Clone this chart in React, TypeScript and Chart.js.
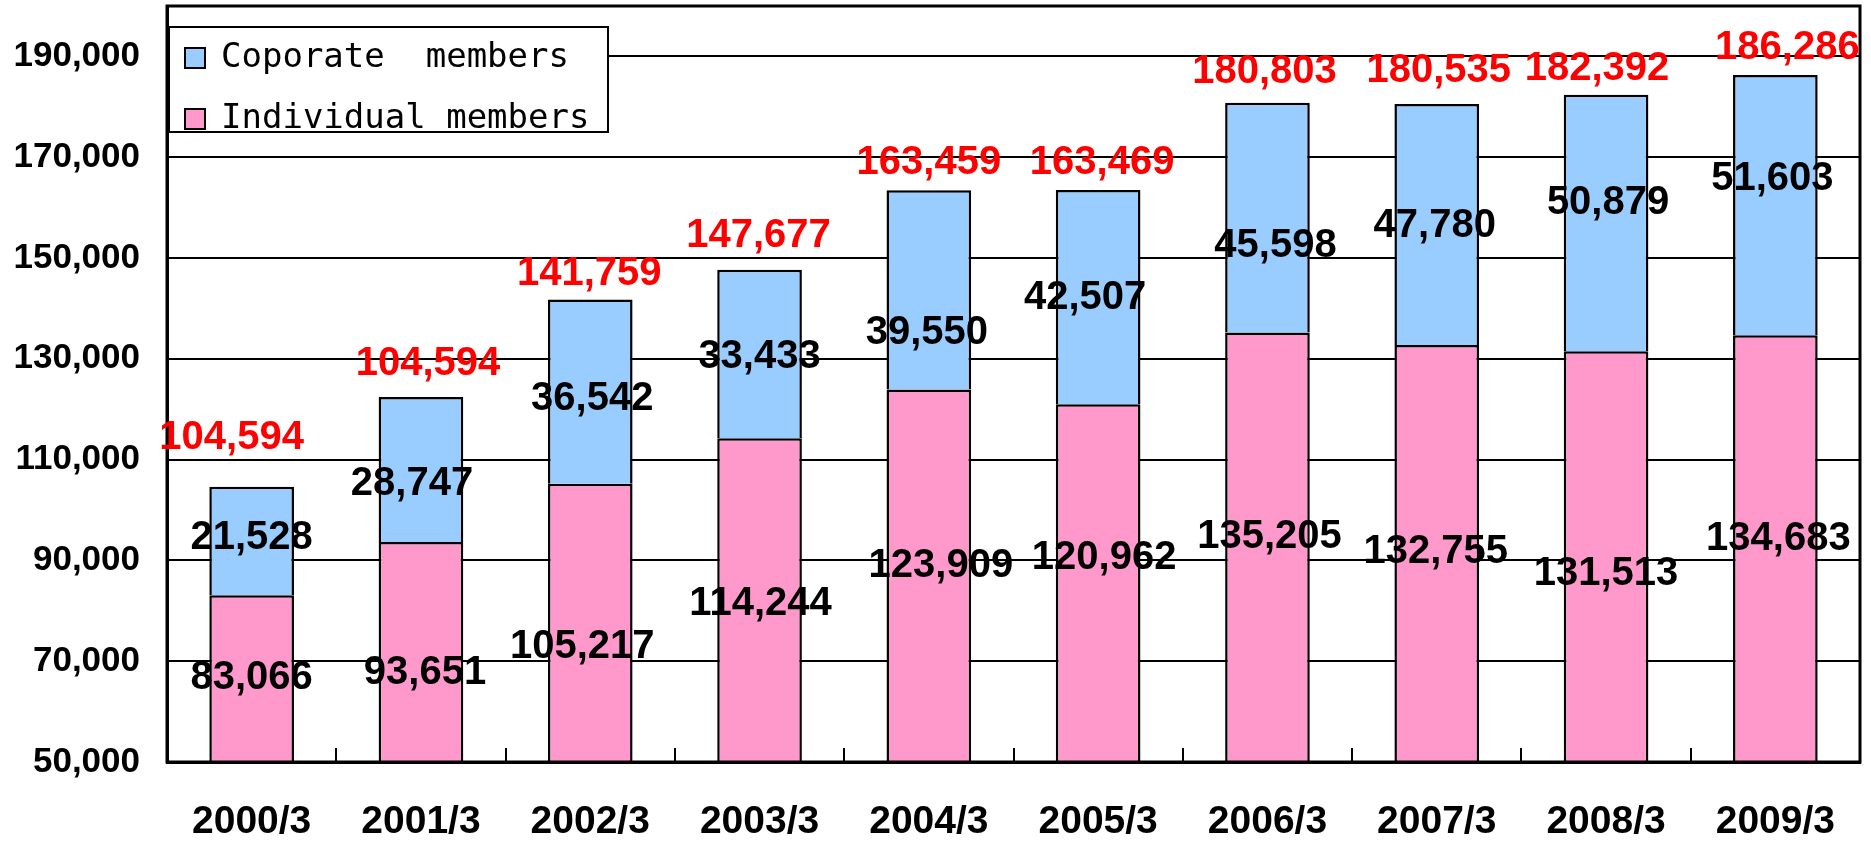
import React, { useEffect, useRef } from "react";
import { Chart, registerables } from "chart.js";

Chart.register(...registerables);

// ---- data ----
const categories = ["2000/3", "2001/3", "2002/3", "2003/3", "2004/3", "2005/3", "2006/3", "2007/3", "2008/3", "2009/3"];
const individualMembers = [83066, 93651, 105217, 114244, 123909, 120962, 135205, 132755, 131513, 134683];
const corporateMembers = [21528, 28747, 36542, 33433, 39550, 42507, 45598, 47780, 50879, 51603];
// total labels as printed in the original (second one repeats the first)
const totalLabels = [104594, 104594, 141759, 147677, 163459, 163469, 180803, 180535, 182392, 186286];
const yTickValues = [50000, 70000, 90000, 110000, 130000, 150000, 170000, 190000];
const Y_MIN = 50000;
const Y_MAX = 200000;

// ---- label nudges (px, [dx, dy]) as placed by hand in the original ----
const individualNudge = [[0, -1], [4, 21], [-8, 24], [1, 4], [12, -10], [6, -25], [2, -10], [-1, -1], [0, 17], [3, -10]];
const corporateNudge = [[0, -3], [-9, 14], [2, 7], [0, 3], [-2, 43], [-13, 1], [8, 28], [-2, 1], [2, -20], [-3, -26]];
const totalNudge = [[-20, -21], [7, -5], [-1, 2], [-1, -6], [0, 1], [4, 1], [-3, -3], [2, -5], [-9, 2], [12, 1]];

const SANS = '"Liberation Sans", Arial, sans-serif';
const MONO = '"DejaVu Sans Mono", "Liberation Mono", monospace';
const PINK = "#FF99CC";
const BLUE = "#99CCFF";

const fmt = (v: number) => Number(v).toLocaleString("en-US");

const overlayPlugin = {
  id: "overlay",
  afterDraw(chart: any) {
    const { ctx, chartArea } = chart;
    const xs = chart.scales.x;
    ctx.save();

    // small x-axis tick marks at category boundaries (pointing up)
    ctx.strokeStyle = "#000";
    ctx.lineWidth = 2;
    for (let i = 0; i <= categories.length; i++) {
      const px = Math.round(xs.getPixelForValue(i - 0.5));
      ctx.beginPath();
      ctx.moveTo(px, chartArea.bottom);
      ctx.lineTo(px, chartArea.bottom - 14);
      ctx.stroke();
    }

    // plot-area border
    ctx.lineWidth = 3;
    ctx.strokeRect(chartArea.left, chartArea.top, chartArea.right - chartArea.left, chartArea.bottom - chartArea.top);

    // legend box
    const lx = chartArea.left + 2;
    const ly = chartArea.top + 21;
    const lw = 439;
    const lh = 105;
    ctx.fillStyle = "#fff";
    ctx.fillRect(lx, ly, lw, lh);
    ctx.strokeStyle = "#000";
    ctx.lineWidth = 2;
    ctx.strokeRect(lx, ly, lw, lh);
    const items = [chart.data.datasets[1], chart.data.datasets[0]];
    const rows = [40, 101];
    ctx.font = `34px ${MONO}`;
    ctx.textAlign = "left";
    ctx.textBaseline = "alphabetic";
    items.forEach((ds: any, k: number) => {
      const base = ly + rows[k];
      ctx.fillStyle = ds.backgroundColor;
      ctx.fillRect(lx + 16, base - 19, 20, 20);
      ctx.strokeStyle = "#000";
      ctx.lineWidth = 2;
      ctx.strokeRect(lx + 16, base - 19, 20, 20);
      ctx.fillStyle = "#000";
      ctx.fillText(ds.label, lx + 52, base);
    });

    // data labels
    const m0 = chart.getDatasetMeta(0);
    const m1 = chart.getDatasetMeta(1);
    ctx.font = `bold 40px ${SANS}`;
    ctx.textAlign = "center";
    ctx.textBaseline = "middle";
    for (let i = 0; i < categories.length; i++) {
      const e0 = m0.data[i].getProps(["x", "y", "base"], true);
      const e1 = m1.data[i].getProps(["x", "y", "base"], true);
      const bottom = Math.min(e0.base, chartArea.bottom);
      ctx.fillStyle = "#000";
      ctx.fillText(fmt(individualMembers[i]), e0.x + individualNudge[i][0], (e0.y + bottom) / 2 + individualNudge[i][1]);
      ctx.fillText(fmt(corporateMembers[i]), e1.x + corporateNudge[i][0], (e1.y + e1.base) / 2 + corporateNudge[i][1]);
      ctx.fillStyle = "#FF0000";
      ctx.fillText(fmt(totalLabels[i]), e1.x + totalNudge[i][0], e1.y - 28 + totalNudge[i][1]);
    }
    ctx.restore();
  },
};

export default function App() {
  const ref = useRef<HTMLCanvasElement | null>(null);

  useEffect(() => {
    document.body.style.margin = "0";
    const canvas = ref.current;
    if (!canvas) return;
    const chart = new Chart(canvas, {
      type: "bar",
      data: {
        labels: categories,
        datasets: [
          {
            label: "Individual members",
            data: individualMembers,
            backgroundColor: PINK,
            borderColor: "#000",
            borderWidth: 2.5,
            barPercentage: 0.5,
            categoryPercentage: 1.0,
          },
          {
            label: "Coporate  members",
            data: corporateMembers,
            backgroundColor: BLUE,
            borderColor: "#000",
            borderWidth: 2.5,
            barPercentage: 0.5,
            categoryPercentage: 1.0,
          },
        ],
      },
      options: {
        animation: false,
        responsive: false,
        maintainAspectRatio: false,
        devicePixelRatio: 1,
        layout: { padding: { top: 6, right: 11, bottom: 0, left: 0 } },
        plugins: {
          legend: { display: false },
          tooltip: { enabled: false },
          title: { display: false },
        },
        scales: {
          x: {
            stacked: true,
            grid: { display: false, drawTicks: false },
            border: { display: true, color: "#000", width: 3 },
            ticks: {
              color: "#000",
              font: { family: SANS, size: 39, weight: "bold" },
              padding: 37,
              maxRotation: 0,
              autoSkip: false,
            },
            afterFit: (s: any) => {
              s.height = 81;
              s.paddingLeft = 0;
              s.paddingRight = 0;
            },
          },
          y: {
            stacked: true,
            min: Y_MIN,
            max: Y_MAX,
            grid: { color: "#000", lineWidth: 2, drawTicks: false },
            border: { display: true, color: "#000", width: 3 },
            ticks: {
              color: "#000",
              font: { family: SANS, size: 35, weight: "bold" },
              padding: 27,
              callback: (v: any) => fmt(v),
            },
            afterBuildTicks: (s: any) => {
              s.ticks = yTickValues.map((v) => ({ value: v }));
            },
            afterFit: (s: any) => {
              s.width = 167;
              s.paddingTop = 0;
              s.paddingBottom = 0;
            },
          },
        },
      },
      plugins: [overlayPlugin],
    } as any);
    return () => chart.destroy();
  }, []);

  return (
    <div style={{ width: 1871, height: 843, background: "#fff" }}>
      <canvas ref={ref} width={1871} height={843} style={{ display: "block" }} />
    </div>
  );
}
